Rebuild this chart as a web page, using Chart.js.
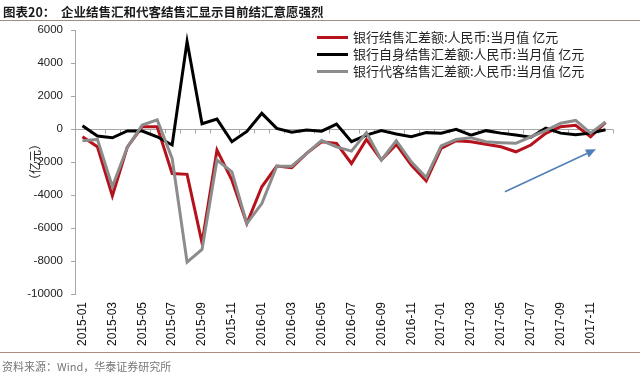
<!DOCTYPE html>
<html>
<head>
<meta charset="utf-8">
<script src="https://cdn.jsdelivr.net/npm/chart.js@4"></script>
<style>
  body { margin: 0; background: #fff; }
  #wrap { position: relative; width: 640px; height: 377px; overflow: hidden; }
  #chart { position: absolute; left: 0; top: 0; }
  .title { position: absolute; left: 3px; top: 2px; font: bold 12.5px "Noto Sans CJK SC"; color: #1a1a1a; white-space: nowrap; }
  .rule { position: absolute; left: 0; width: 640px; height: 1px; }
  .source { position: absolute; left: 2px; top: 358px; font: 11px "Noto Sans CJK SC"; color: #777; white-space: nowrap; }
  #legend { position: absolute; left: 317px; top: 28px; font: 13px "Noto Sans CJK SC"; color: #222; }
  #legend div { height: 17px; line-height: 17px; white-space: nowrap; }
  #legend span.swatch { display: inline-block; width: 31px; height: 3px; vertical-align: middle; margin-right: 5px; position: relative; top: -1px; }
</style>
</head>
<body>
<div id="wrap">
  <canvas id="chart" width="640" height="377"></canvas>
  <div class="title">图表20：&nbsp;&nbsp;企业结售汇和代客结售汇显示目前结汇意愿强烈</div>
  <div class="rule" style="top:20px;background:#9e8e86"></div>
  <div class="rule" style="top:352px;background:#b58a80"></div>
  <div class="source">资料来源：Wind，华泰证券研究所</div>
  <div id="legend"></div>
</div>
<script>
const months = [
    '2015-01', '2015-02', '2015-03', '2015-04', '2015-05', '2015-06', '2015-07', '2015-08', '2015-09', '2015-10', '2015-11', '2015-12',
    '2016-01', '2016-02', '2016-03', '2016-04', '2016-05', '2016-06', '2016-07', '2016-08', '2016-09', '2016-10', '2016-11', '2016-12',
    '2017-01', '2017-02', '2017-03', '2017-04', '2017-05', '2017-06', '2017-07', '2017-08', '2017-09', '2017-10', '2017-11', '2017-12'
];

// 银行结售汇差额
const bankTotal = [
    -470, -1080, -4050, -1100, 140, 140, -2700, -2750, -6900, -1280, -3100, -5730,
    -3500, -2250, -2350, -1480, -770, -870, -2090, -630, -1880, -930, -2190, -3140,
    -1175, -710, -770, -930, -1080, -1380, -970, -260, 140, 220, -470, 400
];
// 银行自身结售汇差额
const bankOwn = [
    200, -425, -530, -120, -120, -470, -970, 5300, 320, 600, -770, -150,
    950, 40, -200, -60, -130, 300, -770, -370, -100, -300, -470, -220,
    -250, -20, -370, -100, -250, -370, -500, 50, -250, -350, -250, -50
];
// 银行代客结售汇差额
const bankClient = [
    -710, -630, -3500, -1100, 240, 550, -1780, -8070, -7300, -1880, -2600, -5730,
    -4520, -2250, -2250, -1480, -700, -1080, -1340, -220, -1880, -710, -1990, -2940,
    -1030, -640, -530, -770, -830, -870, -470, -100, 350, 520, -250, 420
];

const seriesNames = [
    '银行结售汇差额:人民币:当月值 亿元',
    '银行自身结售汇差额:人民币:当月值 亿元',
    '银行代客结售汇差额:人民币:当月值 亿元'
];
const seriesColors = ['#b5121b', '#000000', '#8c8c8c'];

const yTicks = [-10000, -8000, -6000, -4000, -2000, 0, 2000, 4000, 6000];

// trend arrow, in data units (category index, value)
const arrowFrom = [28.27, -3800];
const arrowTo = [34.36, -1230];

const axisGray = '#a6a6a6';

// zero line with monthly tick marks, like the excel axis crossing at 0
const zeroAxis = {
    id: 'zeroAxis',
    beforeDatasetsDraw(chart) {
        const {ctx, chartArea, scales: {x, y}} = chart;
        const y0 = Math.round(y.getPixelForValue(0)) + 0.5;
        const half = (x.getPixelForValue(1) - x.getPixelForValue(0)) / 2;
        ctx.save();
        ctx.strokeStyle = axisGray;
        ctx.lineWidth = 1;
        ctx.beginPath();
        ctx.moveTo(chartArea.left, y0);
        ctx.lineTo(chartArea.right, y0);
        for (let i = 0; i <= months.length; i++) {
            const xb = Math.round(x.getPixelForValue(i) - half) + 0.5;
            ctx.moveTo(xb, y0);
            ctx.lineTo(xb, y0 + 4);
        }
        ctx.stroke();
        ctx.restore();
    }
};

const trendArrow = {
    id: 'trendArrow',
    afterDatasetsDraw(chart) {
        const {ctx, scales: {x, y}} = chart;
        const x1 = x.getPixelForValue(arrowFrom[0]), y1 = y.getPixelForValue(arrowFrom[1]);
        const x2 = x.getPixelForValue(arrowTo[0]), y2 = y.getPixelForValue(arrowTo[1]);
        const ang = Math.atan2(y2 - y1, x2 - x1);
        const head = 10, wing = 4.5;
        const bx = x2 - head * Math.cos(ang), by = y2 - head * Math.sin(ang);
        ctx.save();
        ctx.strokeStyle = '#4f7fb8';
        ctx.fillStyle = '#4f7fb8';
        ctx.lineWidth = 1.5;
        ctx.beginPath();
        ctx.moveTo(x1, y1);
        ctx.lineTo(bx, by);
        ctx.stroke();
        ctx.beginPath();
        ctx.moveTo(x2, y2);
        ctx.lineTo(bx + wing * Math.sin(ang), by - wing * Math.cos(ang));
        ctx.lineTo(bx - wing * Math.sin(ang), by + wing * Math.cos(ang));
        ctx.closePath();
        ctx.fill();
        ctx.restore();
    }
};

const lineSet = (label, data, color, order) => ({
    label: label,
    data: data,
    borderColor: color,
    backgroundColor: color,
    borderWidth: 3,
    pointRadius: 0,
    tension: 0,
    fill: false,
    order: order
});

new Chart(document.getElementById('chart').getContext('2d'), {
    type: 'line',
    data: {
        labels: months,
        datasets: [
            lineSet(seriesNames[0], bankTotal, seriesColors[0], 2),
            lineSet(seriesNames[1], bankOwn, seriesColors[1], 1),
            lineSet(seriesNames[2], bankClient, seriesColors[2], 0)
        ]
    },
    options: {
        responsive: false,
        animation: false,
        layout: {
            padding: { left: 0, right: 27, top: 30, bottom: 0 }
        },
        plugins: {
            legend: { display: false },
            tooltip: { enabled: false }
        },
        scales: {
            x: {
                offset: true,
                grid: { display: false, drawTicks: false },
                border: { display: false },
                ticks: {
                    autoSkip: false,
                    minRotation: 90,
                    maxRotation: 90,
                    padding: 8,
                    color: '#111',
                    font: { family: 'Liberation Sans', size: 12 },
                    callback: function(value, index) {
                        return index % 2 === 0 ? months[index] : '';
                    }
                },
                afterFit: scale => { scale.height = 83; }
            },
            y: {
                min: yTicks[0],
                max: yTicks[yTicks.length - 1],
                afterBuildTicks: scale => { scale.ticks = yTicks.map(v => ({ value: v })); },
                ticks: {
                    padding: 8,
                    color: '#222',
                    font: { family: 'Liberation Sans', size: 11.5 },
                    callback: value => String(value)
                },
                grid: {
                    drawOnChartArea: false,
                    tickLength: 4,
                    color: axisGray
                },
                border: { color: axisGray },
                title: {
                    display: true,
                    text: '（亿元）',
                    color: '#222',
                    padding: { top: 28, bottom: 0 },
                    font: { family: 'Noto Sans CJK SC', size: 12 }
                },
                afterFit: scale => { scale.width = 75; }
            }
        }
    },
    plugins: [zeroAxis, trendArrow]
});

const legend = document.getElementById('legend');
seriesNames.forEach((name, i) => {
    const row = document.createElement('div');
    const sw = document.createElement('span');
    sw.className = 'swatch';
    sw.style.background = seriesColors[i];
    row.appendChild(sw);
    row.appendChild(document.createTextNode(name));
    legend.appendChild(row);
});
</script>
</body>
</html>
